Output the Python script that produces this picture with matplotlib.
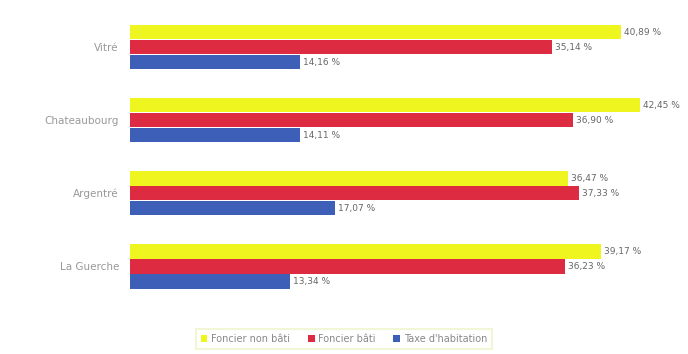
import matplotlib.pyplot as plt
import numpy as np

# Taux d'imposition par commune
communes = ['Vitré', 'Chateaubourg', 'Argentré', 'La Guerche']
foncier_non_bati = [40.89, 42.45, 36.47, 39.17]
foncier_bati = [35.14, 36.90, 37.33, 36.23]
taxe_habitation = [14.16, 14.11, 17.07, 13.34]

series = [
    ('Foncier non bâti', foncier_non_bati, '#eef51f'),
    ('Foncier bâti', foncier_bati, '#dd2b42'),
    ("Taxe d'habitation", taxe_habitation, '#3d5fb8'),
]

fig = plt.figure(figsize=(6.88, 3.54), dpi=100)
ax = fig.add_axes([0.189, 0.124, 0.8, 0.867])

y = np.arange(len(communes))
h = 0.205
for i, (name, vals, col) in enumerate(series):
    pos = y + (i - 1) * h
    ax.barh(pos, vals, height=h - 0.005, color=col, label=name)
    for p, v in zip(pos, vals):
        ax.text(v + 0.25, p, '{:.2f} %'.format(v).replace('.', ','),
                va='center', ha='left', fontsize=6.5, color='#666666')

ax.set_xlim(0, 45.8)
ax.set_ylim(3.6, -0.6)
ax.set_yticks(y)
ax.set_yticklabels(communes, fontsize=7.5, color='#999999')
ax.tick_params(axis='y', length=0, pad=8)
ax.set_xticks([])
for s in ax.spines.values():
    s.set_visible(False)

leg = fig.legend(loc='lower center', bbox_to_anchor=(0.5, 0.0), ncol=3,
                 fontsize=7, frameon=True, fancybox=False,
                 handlelength=0.7, handleheight=0.7, handletextpad=0.4,
                 columnspacing=1.8, borderpad=0.5)
leg.get_frame().set_edgecolor('#eef5cc')
leg.get_frame().set_linewidth(1.5)
for t in leg.get_texts():
    t.set_color('#888888')

plt.savefig('out.png')
plt.close()
